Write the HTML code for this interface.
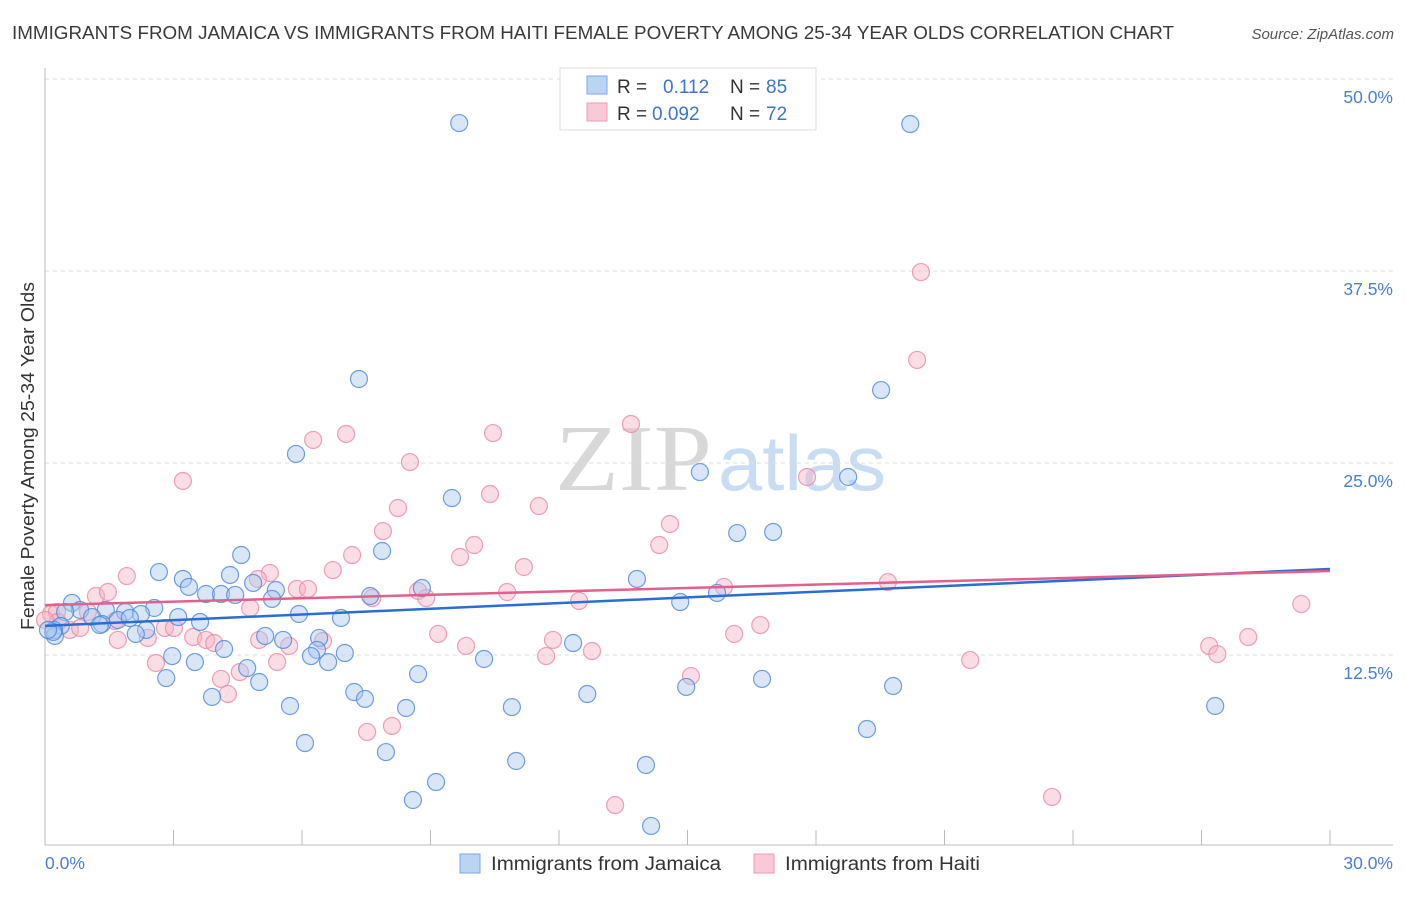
<!DOCTYPE html>
<html><head><meta charset="utf-8"><style>
body{margin:0;background:#fff;font-family:"Liberation Sans",sans-serif;}
svg text{font-family:"Liberation Sans",sans-serif;}
</style></head><body>
<svg id="chart" width="1406" height="892" xmlns="http://www.w3.org/2000/svg">
<text x="12" y="39" font-size="18" fill="#3a3a3a" textLength="1162" lengthAdjust="spacingAndGlyphs">IMMIGRANTS FROM JAMAICA VS IMMIGRANTS FROM HAITI FEMALE POVERTY AMONG 25-34 YEAR OLDS CORRELATION CHART</text>
<text x="1394" y="39" font-size="15" fill="#555" font-style="italic" text-anchor="end">Source: ZipAtlas.com</text>
<g>
<text x="555" y="490" font-size="94" fill="#d8d8d8" style="font-family:'Liberation Serif',serif" textLength="157" lengthAdjust="spacingAndGlyphs">ZIP</text>
<text x="718" y="490" font-size="78" fill="#c9dcf2" textLength="168" lengthAdjust="spacingAndGlyphs">atlas</text>
</g>
<g id="grid"></g>
<g id="axes"></g>
<g id="pts"></g>
<g id="trend"></g>
<text transform="translate(34,456) rotate(-90)" font-size="18" fill="#333" text-anchor="middle" textLength="348" lengthAdjust="spacingAndGlyphs">Female Poverty Among 25-34 Year Olds</text>
<g>
<rect x="560" y="68" width="256" height="62" fill="#fff" stroke="#ddd"/>
<rect x="587" y="76" width="20" height="18" fill="#bcd4f4" stroke="#7ba7e3"/>
<rect x="587" y="103" width="20" height="18" fill="#fac9d8" stroke="#ef9bb6"/>
<text x="617" y="93" font-size="19" fill="#333">R =</text>
<text x="663" y="93" font-size="19" fill="#3d74cc">0.112</text>
<text x="730" y="93" font-size="19" fill="#333">N =</text>
<text x="766" y="93" font-size="19" fill="#3d74cc">85</text>
<text x="617" y="120" font-size="19" fill="#333">R =</text>
<text x="652" y="120" font-size="19" fill="#3d74cc">0.092</text>
<text x="730" y="120" font-size="19" fill="#333">N =</text>
<text x="766" y="120" font-size="19" fill="#3d74cc">72</text>
</g>
<g>
<rect x="460" y="854" width="20" height="19" fill="#bcd4f4" stroke="#7ba7e3"/>
<text x="491" y="870" font-size="19" fill="#333" textLength="230" lengthAdjust="spacingAndGlyphs">Immigrants from Jamaica</text>
<rect x="754" y="854" width="20" height="19" fill="#fac9d8" stroke="#ef9bb6"/>
<text x="785" y="870" font-size="19" fill="#333" textLength="195" lengthAdjust="spacingAndGlyphs">Immigrants from Haiti</text>
</g>
</svg>
<script>
const yTicks=[12.5,25,37.5,50];
const xTickLabels=["0.0%","30.0%"];
const blueX=[9.67,20.20,7.33,19.52,5.86,15.29,18.75,9.50,16.16,17.00,4.58,7.87,2.66,13.82,3.22,4.32,4.86,3.36,5.39,3.76,4.11,4.44,5.30,0.63,2.55,1.87,0.82,1.42,2.24,0.47,8.80,7.59,5.93,6.91,15.69,14.83,3.11,3.62,1.10,1.33,0.37,0.21,0.23,2.36,2.12,4.18,5.14,5.56,6.40,6.35,7.00,12.33,6.61,6.21,2.97,3.50,10.25,2.83,4.72,5.00,8.71,3.90,7.22,7.47,8.43,5.72,10.90,12.66,14.97,16.74,19.80,27.32,19.19,6.07,7.96,11.00,14.03,9.13,8.59,14.15,0.19,0.07,1.28,1.70,1.98];
const blueY=[47.13,47.07,30.47,29.75,25.59,24.41,24.09,22.72,20.44,20.51,19.01,19.27,17.90,17.45,17.45,17.71,17.19,16.93,16.73,16.47,16.47,16.41,16.15,15.89,15.56,15.30,15.43,15.43,15.17,15.30,16.86,16.34,15.17,14.91,16.54,15.95,14.97,14.65,14.97,14.52,14.39,14.13,13.74,14.13,13.87,12.89,13.74,13.48,13.61,12.83,12.63,13.28,12.04,12.43,12.43,12.04,12.24,11.00,11.65,10.74,11.26,9.77,10.09,9.64,9.05,9.18,9.11,9.96,10.42,10.94,10.48,9.18,7.68,6.77,6.18,5.60,5.34,4.23,3.06,1.37,14.00,14.13,14.45,14.78,14.91];
const pinkX=[20.45,20.36,13.68,6.26,7.03,10.46,8.52,3.22,17.79,10.39,8.24,11.53,14.59,7.89,14.34,10.02,7.17,9.69,1.91,5.25,4.97,6.72,11.18,19.68,15.85,5.88,6.14,7.64,8.71,8.90,10.79,12.47,1.19,1.47,0.14,0.28,1.00,1.63,4.79,29.33,2.80,3.01,3.46,3.76,3.95,5.00,5.70,6.49,9.18,11.86,16.09,16.70,27.18,28.09,1.70,2.40,2.59,4.55,5.42,9.83,11.70,12.77,27.37,21.60,15.08,4.11,4.27,8.10,7.52,13.31,23.51,0.58,0.82,0.30,0.00];
const pinkY=[37.43,31.71,27.54,26.50,26.89,26.95,25.06,23.83,24.09,22.98,22.07,22.20,21.03,20.57,19.66,19.66,19.01,18.88,17.64,17.84,17.45,18.03,18.23,17.25,16.93,16.80,16.80,16.21,16.67,16.21,16.60,16.02,16.34,16.60,15.17,15.30,15.30,14.71,15.56,15.82,14.26,14.26,13.67,13.48,13.28,13.48,13.09,13.41,13.87,13.48,13.87,14.45,13.09,13.67,13.48,13.61,11.98,11.39,12.04,13.09,12.43,12.76,12.56,12.17,11.13,10.94,9.96,7.88,7.49,2.73,3.26,14.13,14.26,14.65,14.78];
const blueTrend=[14.4,18.1];
const pinkTrend=[15.75,17.97];

const NS="http://www.w3.org/2000/svg";
const X0=45,X1=1330,YB=847,PX=192/12.5;
const sx=v=>X0+(X1-X0)*v/30;
const sy=v=>YB-v*PX;
function mk(tag,attrs,parent){const e=document.createElementNS(NS,tag);for(const k in attrs)e.setAttribute(k,attrs[k]);parent.appendChild(e);return e;}
const grid=document.getElementById('grid'),axes=document.getElementById('axes'),pts=document.getElementById('pts'),tr=document.getElementById('trend');
yTicks.forEach(t=>{
  const l=mk('line',{x1:45,x2:1393,y1:sy(t),y2:sy(t),stroke:'#dedede','stroke-dasharray':'4,4'},grid);
  
  
  const tx=mk('text',{x:1393,y:sy(t)+24,'font-size':17.5,fill:'#4a7fd0','text-anchor':'end'},grid);
  tx.textContent=t.toFixed(1)+'%';
  
  
});
const ax=mk('line',{x1:45,x2:45,y1:68,y2:845,stroke:'#bbb'},axes);


const bx=mk('line',{x1:45,x2:1393,y1:845,y2:845,stroke:'#bbb'},axes);


for(let i=0;i<=10;i++){
  const t=mk('line',{x1:sx(i*3),x2:sx(i*3),y1:830,y2:845,stroke:'#bbb'},axes);
  
  
}
const xl0=mk('text',{x:45,y:869,'font-size':17.5,fill:'#4a7fd0'},axes);xl0.textContent=xTickLabels[0];


const xl1=mk('text',{x:1393,y:869,'font-size':17.5,fill:'#4a7fd0','text-anchor':'end'},axes);xl1.textContent=xTickLabels[1];


function dots(xs,ys,fill,stroke,name){
  xs.forEach((v,i)=>{
    const c=mk('circle',{cx:sx(v),cy:sy(ys[i]),r:8.5,fill:fill,'fill-opacity':0.45,stroke:stroke,'stroke-width':1.2,'stroke-opacity':0.8},pts);
    
    
  });
}
dots(pinkX,pinkY,'#f4b3c6','#e88aa6','haiti-point');
dots(blueX,blueY,'#a8c8f0','#4f87d8','jamaica-point');
const lb=mk('line',{x1:sx(0),y1:sy(blueTrend[0]),x2:sx(30),y2:sy(blueTrend[1]),stroke:'#2a6dd3','stroke-width':2.5},tr);


const lp=mk('line',{x1:sx(0),y1:sy(pinkTrend[0]),x2:sx(30),y2:sy(pinkTrend[1]),stroke:'#e0608e','stroke-width':2.5},tr);


</script>
</body></html>
